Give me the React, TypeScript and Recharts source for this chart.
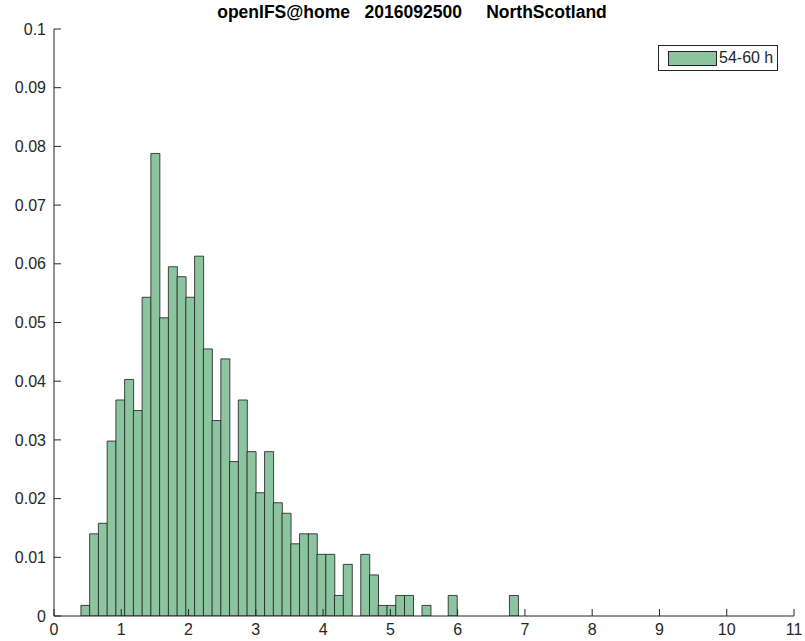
import { BarChart, Bar, XAxis, YAxis, Legend } from 'recharts'

// bin centres (bin width 0.13)
const binCenters = [
	0.465, 0.595, 0.725, 0.855, 0.985, 1.115, 1.245, 1.375, 1.505, 1.635,
	1.765, 1.895, 2.025, 2.155, 2.285, 2.415, 2.545, 2.675, 2.805, 2.935,
	3.065, 3.195, 3.325, 3.455, 3.585, 3.715, 3.845, 3.975, 4.105, 4.235,
	4.365, 4.495, 4.625, 4.755, 4.885, 5.015, 5.145, 5.275, 5.405, 5.535,
	5.665, 5.795, 5.925, 6.055, 6.185, 6.315, 6.445, 6.575, 6.705, 6.835,
]

// probability per bin
const probs = [
	0.0018, 0.014, 0.0158, 0.0298, 0.0368, 0.0403, 0.035, 0.0543, 0.0788, 0.0508,
	0.0595, 0.0578, 0.0543, 0.0613, 0.0455, 0.0333, 0.0438, 0.0263, 0.0368, 0.028,
	0.021, 0.028, 0.0193, 0.0175, 0.0123, 0.014, 0.014, 0.0105, 0.0105, 0.0035,
	0.0088, 0, 0.0105, 0.007, 0.0018, 0.0018, 0.0035, 0.0035, 0, 0.0018,
	0, 0, 0.0035, 0, 0, 0, 0, 0, 0, 0.0035,
]

const xTicks = [0, 1, 2, 3, 4, 5, 6, 7, 8, 9, 10, 11]
const yTicks = [0, 0.01, 0.02, 0.03, 0.04, 0.05, 0.06, 0.07, 0.08, 0.09, 0.1]

const seriesName = '54-60 h'
const title = 'openIFS@home   2016092500     NorthScotland'

const data = binCenters.map((x, i) => ({ x, p: probs[i] }))

const FILL = '#8cc4a0'
const AXIS = '#262626'
const FONT = '"Liberation Sans", Arial, Helvetica, sans-serif'
const tickStyle = { fill: AXIS, fontSize: 16, fontFamily: FONT }

const LegendBox = () => (
	<div
		style={{
			position: 'relative',
			boxSizing: 'border-box',
			width: 120,
			height: 26,
			border: '1px solid ' + AXIS,
			background: '#fff',
			fontFamily: FONT,
		}}>
		<div
			style={{
				position: 'absolute',
				left: 9,
				top: 5,
				width: 49,
				height: 15,
				boxSizing: 'border-box',
				background: FILL,
				border: '1px solid #222',
			}}
		/>
		<span
			style={{
				position: 'absolute',
				left: 60,
				top: 3,
				fontSize: 16,
				lineHeight: '18px',
				color: AXIS,
				whiteSpace: 'nowrap',
			}}>
			{seriesName}
		</span>
	</div>
)

export default function App() {
	return (
		<div style={{ position: 'absolute', left: 0, top: 0, background: '#fff' }}>
			<BarChart
				width={805}
				height={641}
				data={data}
				margin={{ top: 29, right: 11, bottom: 0, left: 0 }}
				barCategoryGap={0}
				barGap={0}>
				<XAxis
					dataKey="x"
					type="number"
					domain={[0, 11]}
					ticks={xTicks}
					allowDataOverflow
					height={25}
					tickSize={-7}
					tickMargin={15}
					tick={tickStyle}
					stroke={AXIS}
				/>
				<XAxis
					xAxisId="top"
					orientation="top"
					type="number"
					domain={[0, 11]}
					ticks={xTicks}
					height={0}
					tickSize={-7}
					tick={false}
					stroke={AXIS}
				/>
				<YAxis
					type="number"
					domain={[0, 0.1]}
					ticks={yTicks}
					allowDataOverflow
					width={54}
					tickSize={-7}
					tickMargin={15}
					tick={tickStyle}
					stroke={AXIS}
				/>
				<YAxis
					yAxisId="right"
					orientation="right"
					type="number"
					domain={[0, 0.1]}
					ticks={yTicks}
					width={0}
					tickSize={-7}
					tick={false}
					stroke={AXIS}
				/>
				<Bar
					dataKey="p"
					name={seriesName}
					fill={FILL}
					stroke="#1a1a1a"
					strokeWidth={0.8}
					isAnimationActive={false}
				/>
				<Legend
					layout="horizontal"
					verticalAlign="middle"
					align="center"
					wrapperStyle={{ left: 658, top: 45, width: 120, height: 26 }}
					content={() => <LegendBox />}
				/>
				<text
					x={412}
					y={18}
					textAnchor="middle"
					fontFamily={FONT}
					fontWeight="bold"
					fontSize={17.5}
					fill="#000"
					style={{ whiteSpace: 'pre' }}>
					{title}
				</text>
			</BarChart>
		</div>
	)
}
